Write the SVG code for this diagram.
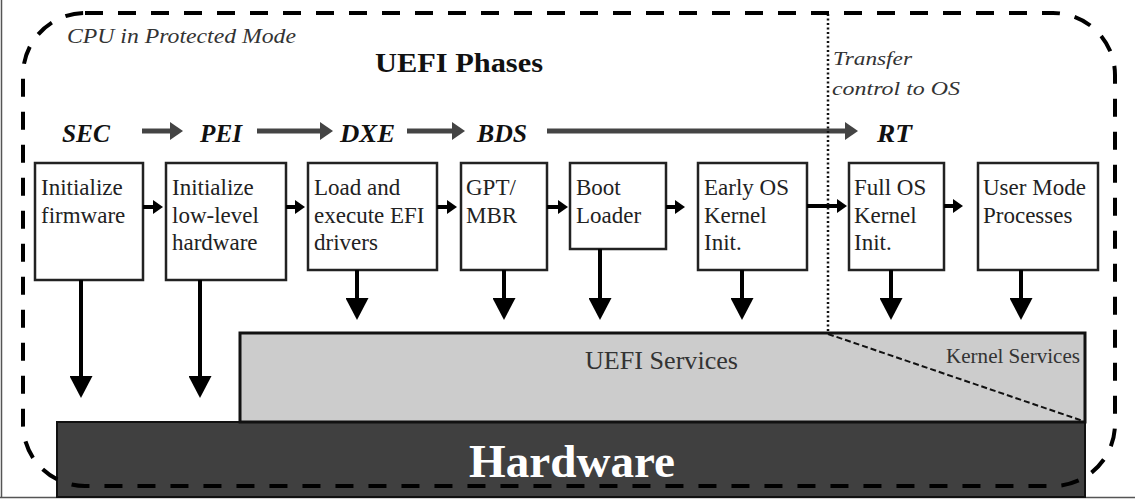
<svg xmlns="http://www.w3.org/2000/svg" width="1135" height="504" viewBox="0 0 1135 504">
<defs>
<style>
.box{fill:#fff;stroke:#222;stroke-width:2.5}
.bt{font-family:"Liberation Serif","Times New Roman",serif;font-size:23px;fill:#222}
.ph{font-family:"Liberation Serif","Times New Roman",serif;font-size:25px;font-weight:bold;font-style:italic;fill:#111}
.it{font-family:"Liberation Serif","Times New Roman",serif;font-style:italic;fill:#333}
.parr{stroke:#444;stroke-width:5;fill:none}
.sarr{stroke:#000;stroke-width:4;fill:none}
.darr{stroke:#000;stroke-width:4;fill:none}
</style>
<marker id="mp" markerUnits="userSpaceOnUse" markerWidth="13" markerHeight="18" viewBox="0 0 13 18" refX="0" refY="9" orient="auto"><path d="M0,0 L13,9 L0,18 z" fill="#444"/></marker>
<marker id="ms" markerUnits="userSpaceOnUse" markerWidth="10" markerHeight="14" viewBox="0 0 10 14" refX="0" refY="7" orient="auto"><path d="M0,0 L10,7 L0,14 z" fill="#000"/></marker>
<marker id="md" markerUnits="userSpaceOnUse" markerWidth="22" markerHeight="23" viewBox="0 0 22 23" refX="0" refY="11.5" orient="auto"><path d="M0,0 L22,11.5 L0,23 z" fill="#000"/></marker>
</defs>
<rect width="1135" height="504" fill="#fff"/>
<g id="frame" stroke="#555" stroke-width="1.5">
<line x1="1.5" y1="0" x2="1.5" y2="497"/>
<line x1="0" y1="497.5" x2="1135" y2="497.5"/>
</g>
<g id="layers">
<rect id="hardware" x="57" y="422" width="1028" height="75" fill="#404040" stroke="#111" stroke-width="2"/>
<rect id="uefi-services" x="240" y="333" width="845" height="89" fill="#cccccc" stroke="#111" stroke-width="3"/>
<line x1="828" y1="334" x2="1083" y2="421" stroke="#111" stroke-width="2" stroke-dasharray="6 3"/>
<text x="585" y="369" textLength="153" lengthAdjust="spacingAndGlyphs" style="font-family:'Liberation Serif','Times New Roman',serif;font-size:25px;fill:#333">UEFI Services</text>
<text x="946" y="363" textLength="134" lengthAdjust="spacingAndGlyphs" style="font-family:'Liberation Serif','Times New Roman',serif;font-size:20px;fill:#333">Kernel Services</text>
<text x="469" y="477" textLength="206" lengthAdjust="spacingAndGlyphs" style="font-family:'Liberation Serif','Times New Roman',serif;font-size:47px;font-weight:bold;fill:#fff">Hardware</text>
</g>
<g id="labels">
<text class="it" x="67" y="43" font-size="21" textLength="229" lengthAdjust="spacingAndGlyphs">CPU in Protected Mode</text>
<text x="375" y="72" textLength="168" lengthAdjust="spacingAndGlyphs" style="font-family:'Liberation Serif','Times New Roman',serif;font-size:28px;font-weight:bold;fill:#111">UEFI Phases</text>
<text class="it" x="833" y="65" font-size="19" textLength="79" lengthAdjust="spacingAndGlyphs">Transfer</text>
<text class="it" x="832" y="95" font-size="19" textLength="128" lengthAdjust="spacingAndGlyphs">control to OS</text>
<text class="ph" x="62" y="142" textLength="48" lengthAdjust="spacingAndGlyphs">SEC</text>
<text class="ph" x="200" y="142" textLength="42" lengthAdjust="spacingAndGlyphs">PEI</text>
<text class="ph" x="340" y="142" textLength="55" lengthAdjust="spacingAndGlyphs">DXE</text>
<text class="ph" x="477" y="142" textLength="50" lengthAdjust="spacingAndGlyphs">BDS</text>
<text class="ph" x="877" y="142" textLength="35" lengthAdjust="spacingAndGlyphs">RT</text>
</g>
<g id="box1"><rect class="box" x="35" y="163" width="108" height="117"/><text class="bt" x="41" y="195">Initialize</text><text class="bt" x="41" y="223">firmware</text></g>
<g id="box2"><rect class="box" x="166" y="163" width="120" height="117"/><text class="bt" x="172" y="195">Initialize</text><text class="bt" x="172" y="223">low-level</text><text class="bt" x="172" y="250">hardware</text></g>
<g id="box3"><rect class="box" x="308" y="163" width="129" height="107"/><text class="bt" x="314" y="195">Load and</text><text class="bt" x="314" y="223">execute EFI</text><text class="bt" x="314" y="250">drivers</text></g>
<g id="box4"><rect class="box" x="461" y="163" width="86" height="107"/><text class="bt" x="466" y="195">GPT/</text><text class="bt" x="466" y="223">MBR</text></g>
<g id="box5"><rect class="box" x="570" y="163" width="96" height="86"/><text class="bt" x="576" y="195">Boot</text><text class="bt" x="576" y="223">Loader</text></g>
<g id="box6"><rect class="box" x="698" y="163" width="109" height="107"/><text class="bt" x="704" y="195">Early OS</text><text class="bt" x="704" y="223">Kernel</text><text class="bt" x="704" y="250">Init.</text></g>
<g id="box7"><rect class="box" x="849" y="163" width="95" height="107"/><text class="bt" x="854" y="195">Full OS</text><text class="bt" x="854" y="223">Kernel</text><text class="bt" x="854" y="250">Init.</text></g>
<g id="box8"><rect class="box" x="978" y="163" width="120" height="107"/><text class="bt" x="983" y="195">User Mode</text><text class="bt" x="983" y="223">Processes</text></g>
<g id="connectors">
<line class="parr" x1="142" y1="131" x2="170" y2="131" marker-end="url(#mp)"/>
<line class="parr" x1="257" y1="131" x2="320" y2="131" marker-end="url(#mp)"/>
<line class="parr" x1="407" y1="131" x2="452" y2="131" marker-end="url(#mp)"/>
<line class="parr" x1="547" y1="131" x2="845" y2="131" marker-end="url(#mp)"/>
<line class="sarr" x1="143" y1="207" x2="153" y2="207" marker-end="url(#ms)"/>
<line class="sarr" x1="286" y1="207" x2="295" y2="207" marker-end="url(#ms)"/>
<line class="sarr" x1="437" y1="207" x2="447" y2="207" marker-end="url(#ms)"/>
<line class="sarr" x1="547" y1="207" x2="558" y2="207" marker-end="url(#ms)"/>
<line class="sarr" x1="666" y1="207" x2="675" y2="207" marker-end="url(#ms)"/>
<line class="sarr" x1="807" y1="206" x2="837" y2="206" marker-end="url(#ms)"/>
<line class="sarr" x1="944" y1="206" x2="953" y2="206" marker-end="url(#ms)"/>
<line class="darr" x1="81" y1="280" x2="81" y2="376" marker-end="url(#md)"/>
<line class="darr" x1="200" y1="280" x2="200" y2="376" marker-end="url(#md)"/>
<line class="darr" x1="357" y1="270" x2="357" y2="298" marker-end="url(#md)"/>
<line class="darr" x1="504" y1="270" x2="504" y2="298" marker-end="url(#md)"/>
<line class="darr" x1="600" y1="249" x2="600" y2="298" marker-end="url(#md)"/>
<line class="darr" x1="742" y1="270" x2="742" y2="298" marker-end="url(#md)"/>
<line class="darr" x1="891" y1="270" x2="891" y2="298" marker-end="url(#md)"/>
<line class="darr" x1="1021" y1="270" x2="1021" y2="298" marker-end="url(#md)"/>
</g>
<g id="boundaries">
<line x1="828" y1="14" x2="828" y2="333" stroke="#111" stroke-width="2.5" stroke-dasharray="2 2.5"/>
<rect x="23" y="13" width="1092" height="473" rx="62" ry="62" fill="none" stroke="#000" stroke-width="4" stroke-dasharray="18 15"/>
</g>
</svg>
